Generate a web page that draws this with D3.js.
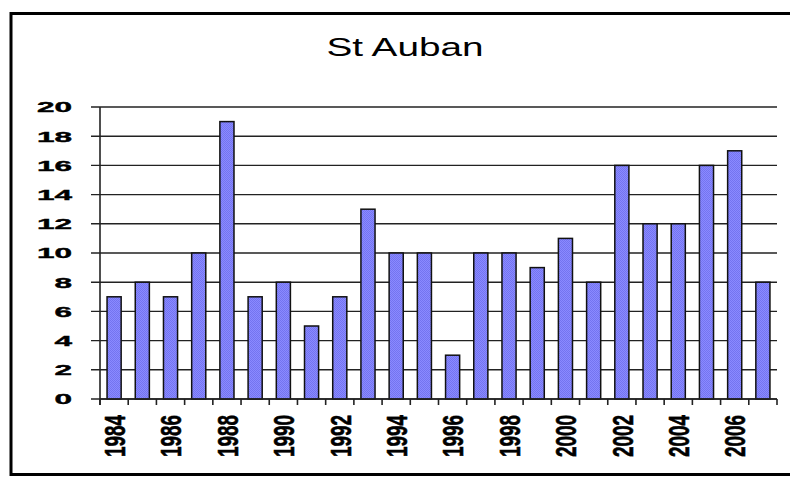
<!DOCTYPE html>
<html>
<head>
<meta charset="utf-8">
<script src="https://cdn.jsdelivr.net/npm/d3@7"></script>
<style>
  body { margin: 0; background: #fff; overflow: hidden; }
  svg { display: block; font-family: "Liberation Sans", Arial, sans-serif; }
</style>
</head>
<body>
<div id="chart"></div>
<script>
// Data
const years = [1984, 1985, 1986, 1987, 1988, 1989, 1990, 1991, 1992, 1993, 1994, 1995,
  1996, 1997, 1998, 1999, 2000, 2001, 2002, 2003, 2004, 2005, 2006, 2007];
const counts = [7, 8, 7, 10, 19, 7, 8, 5, 7, 13, 10, 10,
  3, 10, 10, 9, 11, 8, 16, 12, 12, 16, 17, 8];
const yTicks = [0, 2, 4, 6, 8, 10, 12, 14, 16, 18, 20];
const labelYears = [1984, 1986, 1988, 1990, 1992, 1994, 1996, 1998, 2000, 2002, 2004, 2006];
const title = "St Auban";

const width = 790;
const height = 484;

const svg = d3.select("#chart").append("svg").attr("width", width).attr("height", height);

// dithered fill like the old spreadsheet export
const defs = svg.append("defs");
const pat = defs.append("pattern").attr("id", "dither")
  .attr("width", 2).attr("height", 2).attr("patternUnits", "userSpaceOnUse");
pat.append("rect").attr("width", 2).attr("height", 2).attr("fill", "#8a8aff");
pat.append("rect").attr("width", 1).attr("height", 1).attr("fill", "#7474f0");
pat.append("rect").attr("x", 1).attr("y", 1).attr("width", 1).attr("height", 1).attr("fill", "#7474f0");

// outer frame (right side runs off the picture)
svg.append("rect")
  .attr("x", 11).attr("y", 13.5)
  .attr("width", 900).attr("height", 461)
  .attr("fill", "none").attr("stroke", "#000").attr("stroke-width", 3);

svg.append("text")
  .attr("transform", "translate(405,56) scale(1.55,1)")
  .attr("text-anchor", "middle")
  .attr("font-size", 25)
  .text(title);

const x = d3.scaleBand().domain(years).range([100, 777]).paddingInner(0.5).paddingOuter(0.25);
const y = d3.scaleLinear().domain([0, 20]).range([399, 107]);

// gridlines + y ticks
svg.append("g")
  .selectAll("line")
  .data(yTicks)
  .join("line")
  .attr("x1", 91).attr("x2", 777)
  .attr("y1", (d) => y(d)).attr("y2", (d) => y(d))
  .attr("stroke", "#222").attr("stroke-width", 1.4);

svg.append("g")
  .selectAll("text")
  .data(yTicks)
  .join("text")
  .attr("transform", (d) => `translate(72,${y(d)}) scale(2.1,1)`)
  .attr("text-anchor", "end")
  .attr("dy", "0.36em")
  .attr("font-size", 15)
  .attr("font-weight", "bold")
  .attr("stroke", "#000").attr("stroke-width", 0.4)
  .text((d) => d);

// bars
svg.append("g")
  .selectAll("rect")
  .data(years)
  .join("rect")
  .attr("x", (d) => x(d))
  .attr("y", (d, i) => y(counts[i]))
  .attr("width", x.bandwidth())
  .attr("height", (d, i) => y(0) - y(counts[i]))
  .attr("fill", "url(#dither)")
  .attr("stroke", "#111")
  .attr("stroke-width", 1.5);

// axes
svg.append("line")
  .attr("x1", 100).attr("x2", 100)
  .attr("y1", y(20)).attr("y2", y(0) + 6)
  .attr("stroke", "#222").attr("stroke-width", 1.6);

const edges = years.map((d) => x(d) - (x.step() * x.paddingInner()) / 2).concat([777]);
svg.append("g")
  .selectAll("line")
  .data(edges)
  .join("line")
  .attr("x1", (d) => d).attr("x2", (d) => d)
  .attr("y1", y(0)).attr("y2", y(0) + 6)
  .attr("stroke", "#222").attr("stroke-width", 1.6);

svg.append("line")
  .attr("x1", 100).attr("x2", 777)
  .attr("y1", y(0)).attr("y2", y(0))
  .attr("stroke", "#222").attr("stroke-width", 1.6);

// rotated year labels
svg.append("g")
  .selectAll("text")
  .data(labelYears)
  .join("text")
  .attr("transform", (d) => `translate(${x(d) + x.bandwidth() / 2},415) scale(2,1) rotate(-90)`)
  .attr("text-anchor", "end")
  .attr("dy", "0.36em")
  .attr("font-size", 15)
  .attr("font-weight", "bold")
  .attr("stroke", "#000").attr("stroke-width", 0.3)
  .attr("textLength", 42)
  .attr("lengthAdjust", "spacingAndGlyphs")
  .text((d) => d);
</script>
</body>
</html>
